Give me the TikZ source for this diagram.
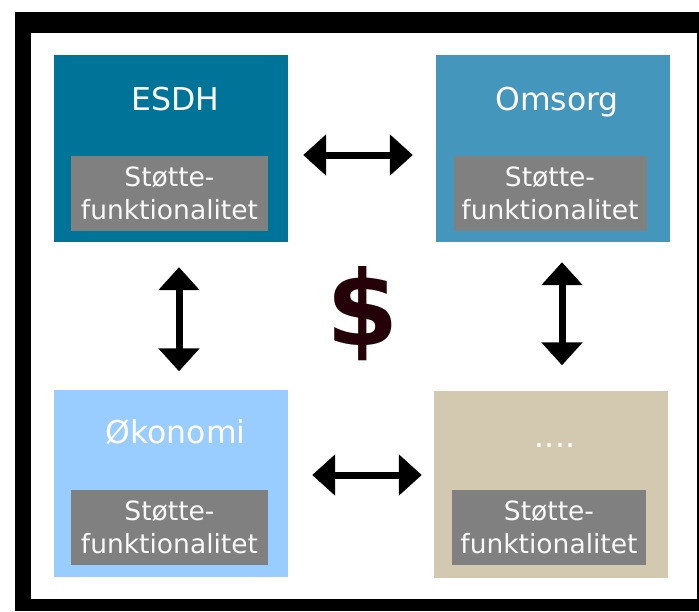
\documentclass[tikz,border=0pt]{standalone}
\usepackage{fontspec}
\setmainfont{DejaVu Sans}
\usetikzlibrary{arrows.meta}
\definecolor{esdhc}{HTML}{007399}
\definecolor{omsc}{HTML}{4496BC}
\definecolor{okoc}{HTML}{99CCFF}
\definecolor{dotc}{HTML}{D3C8B0}
\definecolor{grayc}{HTML}{808080}
\definecolor{dollarc}{HTML}{240008}
\tikzset{
  bigbox/.style={draw=none, minimum width=234pt, minimum height=187pt, inner sep=0pt},
  graybox/.style={fill=grayc, draw=none, minimum height=75pt, inner sep=0pt, text=white!95!gray,
    align=center, font=\fontsize{26.5}{33}\selectfont},
  title/.style={text=white, anchor=base, inner sep=0pt, font=\fontsize{31.5}{36}\selectfont},
  dblarrow/.style={line width=7pt, {Triangle[length=23pt,width=40pt]}-{Triangle[length=23pt,width=40pt]}}
}
\begin{document}
\begin{tikzpicture}[x=1pt,y=-1pt]
\useasboundingbox (0,0) rectangle (699,611);
\fill[white] (0,0) rectangle (699,611);
\fill[black] (15,12) rectangle (699,611);
\fill[white] (31,33) rectangle (697,599);
% boxes
\node[bigbox, fill=esdhc] (esdh) at (171,148.5) {};
\node[bigbox, fill=omsc] (omsorg) at (553,148.5) {};
\node[bigbox, fill=okoc] (okonomi) at (171,483) {};
\node[bigbox, fill=dotc] (dots) at (551,484) {};
% titles
\node[title] (t1) at (175.5,110) {ESDH};
\node[title] (t2) at (557,110) {Omsorg};
\node[title] (t3) at (175.5,443) {Økonomi};
\node[title] (t4) at (555,447) {....};
% gray support boxes
\node[graybox, minimum width=197pt] (g1) at (169.5,193.5) {Støtte-\\funktionalitet};
\node[graybox, minimum width=193pt] (g2) at (550,193.5) {Støtte-\\funktionalitet};
\node[graybox, minimum width=197pt] (g3) at (169.5,527.5) {Støtte-\\funktionalitet};
\node[graybox, minimum width=194pt] (g4) at (549,527.5) {Støtte-\\funktionalitet};
% dollar
\node[text=dollarc, font=\fontsize{104}{110}\bfseries\selectfont, inner sep=0pt] (dollar) at (363,314) {\$};
% arrows
\draw[dblarrow, shorten <=15pt, shorten >=23pt] ([yshift=-6.5pt]esdh.east) -- ([yshift=-6.5pt]esdh.east -| omsorg.west);
\draw[dblarrow, shorten <=25pt, shorten >=18pt] ([xshift=8pt]esdh.south) -- ([xshift=8pt]esdh.south |- okonomi.north);
\draw[dblarrow, shorten <=20pt, shorten >=25pt] ([xshift=9pt]omsorg.south) -- ([xshift=9pt]omsorg.south |- dots.north);
\draw[dblarrow, shorten <=24pt, shorten >=12pt] ([yshift=8pt]okonomi.east) -- ([yshift=8pt]okonomi.east -| dots.west);
\end{tikzpicture}
\end{document}
